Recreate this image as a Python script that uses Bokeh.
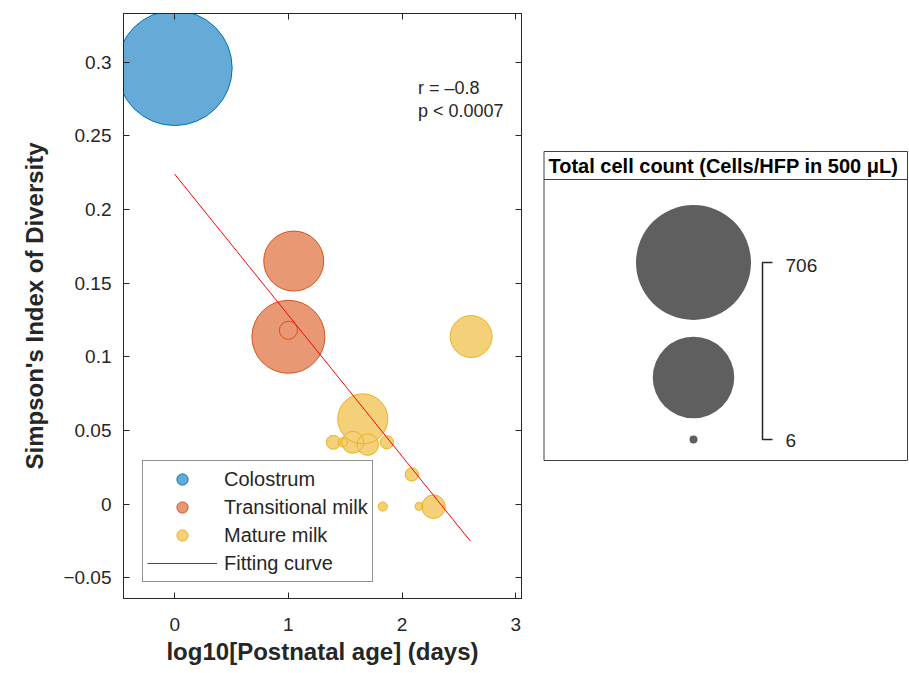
import numpy as np
from bokeh.plotting import figure
from bokeh.layouts import row
from bokeh.models import Range1d, FixedTicker, LinearAxis, Legend, LegendItem, ColumnDataSource
from bokeh.core.properties import value
from bokeh.embed import file_html
from bokeh.resources import INLINE

# ---------------- data ----------------
colostrum_x = [0.0]
colostrum_y = [0.296]
colostrum_n = [706]

transitional_x = [1.047, 1.0, 1.0]
transitional_y = [0.165, 0.1136, 0.118]
transitional_n = [194, 286, 20]

mature_x = [2.607, 1.654, 1.395, 1.478, 1.566, 1.698, 1.866, 2.086, 1.83, 2.149, 2.276]
mature_y = [0.1138, 0.0579, 0.042, 0.042, 0.042, 0.0404, 0.042, 0.0202, -0.0016, -0.0015, -0.0017]
mature_n = [96, 136, 13, 7, 28, 27, 12, 12, 7, 6, 32]

fit_x = [0.0, 2.6]
fit_y = [0.224, -0.025]

x_ticks = [0, 1, 2, 3]
y_ticks = [-0.05, 0, 0.05, 0.1, 0.15, 0.2, 0.25, 0.3]
y_tick_labels = ["\u22120.05", "0", "0.05", "0.1", "0.15", "0.2", "0.25", "0.3"]
stat_lines = ["r = \u20130.8", "p < 0.0007"]
series_names = ["Colostrum", "Transitional milk", "Mature milk"]
fit_name = "Fitting curve"
bubble_title = "Total cell count (Cells/HFP in 500 \u03bcL)"

# ---------------- styles ----------------
FONT = "Liberation Sans"
AX = "#262626"
edge_colors = ["#0072BD", "#D95319", "#EDB120"]
fill_colors = ["#66AAD7", "#E89875", "#F4D079"]   # 60 % opacity of the edge colours on white

all_n = colostrum_n + transitional_n + mature_n
n_min, n_max = min(all_n), max(all_n)
R_MIN, R_MAX = 4.0, 57.5


def diam(n):
    n = np.asarray(n, dtype=float)
    return 2 * np.sqrt(R_MIN ** 2 + (n - n_min) / (n_max - n_min) * (R_MAX ** 2 - R_MIN ** 2))


# page layout (pixels)
W1, W2, H = 530, 379, 673
BORDER_T, BORDER_B = 13, 75

# ---------------- main plot ----------------
p = figure(width=W1, height=H, x_range=Range1d(-0.45, 3.05), y_range=Range1d(-0.064, 0.333),
           output_backend="svg", toolbar_location=None,
           min_border_left=123, min_border_right=9, min_border_top=BORDER_T, min_border_bottom=BORDER_B)
p.xgrid.visible = False
p.ygrid.visible = False
p.outline_line_color = AX
p.background_fill_color = "white"

p.xaxis.ticker = FixedTicker(ticks=x_ticks)
p.yaxis.ticker = FixedTicker(ticks=y_ticks)
p.yaxis.major_label_overrides = {t: l for t, l in zip(y_ticks, y_tick_labels)}
p.xaxis.axis_label = "log10[Postnatal age] (days)"
p.yaxis.axis_label = "Simpson's Index of Diversity"
for ax in (p.xaxis[0], p.yaxis[0]):
    ax.major_tick_in = 6
    ax.major_tick_out = 0
    ax.minor_tick_line_color = None
    ax.axis_line_color = AX
    ax.major_tick_line_color = AX
    ax.major_label_text_font = FONT
    ax.major_label_text_font_size = "19px"
    ax.major_label_text_color = AX
    ax.axis_label_text_font = FONT
    ax.axis_label_text_font_style = "bold"
    ax.axis_label_text_font_size = "24px"
    ax.axis_label_text_color = AX
p.yaxis.major_label_standoff = 12
p.yaxis.axis_label_standoff = 12
p.xaxis.major_label_standoff = 19
p.xaxis.axis_label_standoff = 4

for loc, tks in (("above", x_ticks), ("right", y_ticks)):
    a = LinearAxis(ticker=FixedTicker(ticks=tks), major_label_overrides={t: "" for t in tks},
                   major_label_text_font_size="1px",
                   major_tick_in=6, major_tick_out=0, minor_tick_line_color=None,
                   major_label_standoff=0, axis_line_color=AX, major_tick_line_color=AX)
    p.add_layout(a, loc)

groups = [(colostrum_x, colostrum_y, colostrum_n),
          (transitional_x, transitional_y, transitional_n),
          (mature_x, mature_y, mature_n)]
items = []
for (gx, gy, gn), ecol, fcol, name in zip(groups, edge_colors, fill_colors, series_names):
    src = ColumnDataSource(dict(x=gx, y=gy, s=diam(gn)))
    rf = p.scatter("x", "y", size="s", source=src, marker="circle",
                   fill_color=fcol, line_color=None)
    re = p.scatter("x", "y", size="s", source=src, marker="circle",
                   fill_color=None, line_color=ecol, line_width=1)
    items.append(LegendItem(label=name, renderers=[rf, re], index=0))

fit = p.line(fit_x, fit_y, line_color="red", line_width=1)
items.append(LegendItem(label=fit_name, renderers=[fit]))

p.text(x=[2.139, 2.139], y=[0.2823, 0.2666], text=stat_lines,
       text_font=value(FONT), text_font_size="18px", text_color=AX,
       text_baseline="middle", text_align="left")

leg = Legend(items=items, location=(19, 16), glyph_height=28, glyph_width=70, spacing=0,
             padding=4, label_standoff=7, label_text_font=FONT, label_text_font_size="20px",
             label_text_color=AX, border_line_color=AX, border_line_width=1,
             background_fill_color="white", background_fill_alpha=1.0)
p.add_layout(leg, "center")

# ---------------- bubble size legend (coordinates = page pixels) ----------------
p2 = figure(width=W2, height=H, x_range=Range1d(W1, W1 + W2), y_range=Range1d(H - BORDER_B, BORDER_T),
            output_backend="svg", toolbar_location=None,
            x_axis_location=None, y_axis_location=None,
            min_border_left=0, min_border_right=0, min_border_top=BORDER_T, min_border_bottom=BORDER_B)
p2.xgrid.visible = False
p2.ygrid.visible = False
p2.outline_line_color = None

BOX_L, BOX_R, BOX_T, BOX_SEP, BOX_B = 543.5, 907, 151, 179, 460
p2.quad(left=[BOX_L], right=[BOX_R], top=[BOX_T], bottom=[BOX_B],
        fill_color=None, line_color="#404040", line_width=1)
p2.line([BOX_L, BOX_R], [BOX_SEP, BOX_SEP], line_color="#404040", line_width=1)
p2.text(x=[548], y=[165.5], text=[bubble_title], text_font=value(FONT), text_font_size="20px",
        text_font_style="bold", text_color="black", text_baseline="middle")

legend_vals = [n_max, (n_min + n_max) / 2, n_min]
BUB_X = 693
bub_y = [262, 377, 439]
p2.scatter([BUB_X] * 3, bub_y, size=diam(legend_vals), marker="circle",
           fill_color="#5f5f5f", line_color=None)
p2.line([772, 762, 762, 772], [262, 262, 439, 439], line_color="#262626", line_width=1.5)
p2.text(x=[785, 785], y=[265, 440], text=[str(n_max), str(n_min)], text_font=value(FONT),
        text_font_size="19px", text_color=AX, text_baseline="middle")

layout = row(p, p2)
open("out.html", "w").write(file_html(layout, INLINE))
